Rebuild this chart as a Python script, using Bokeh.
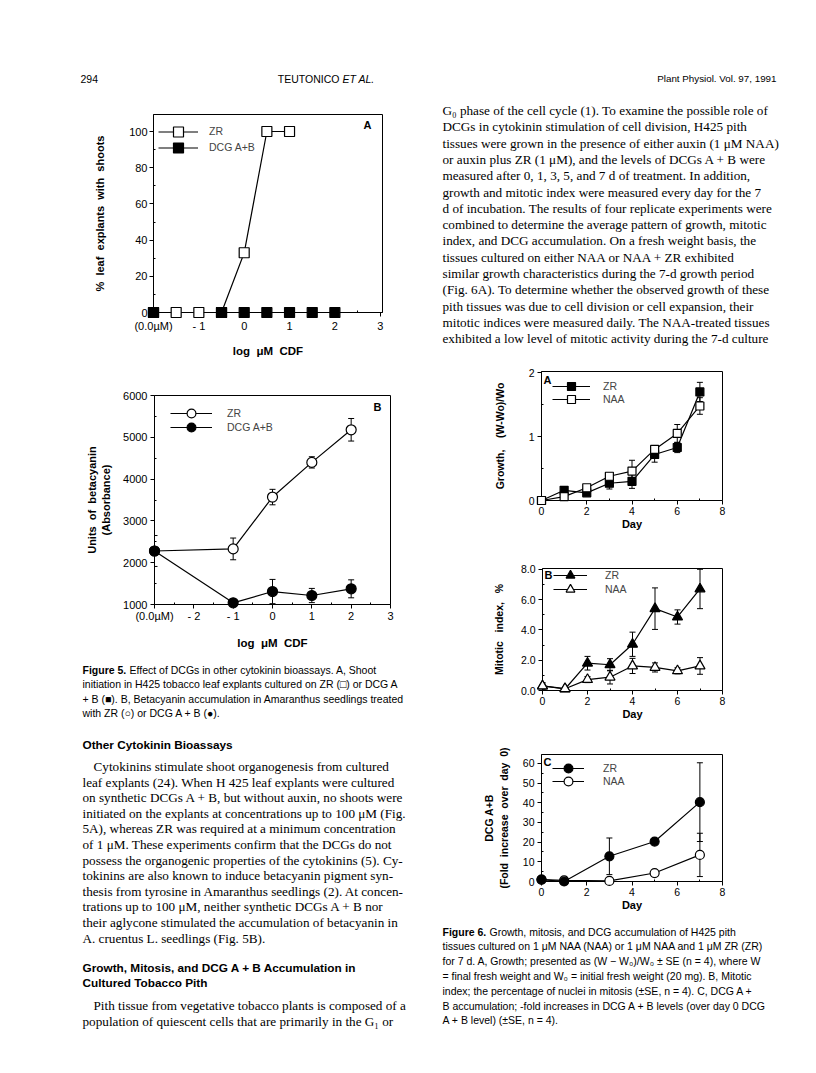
from bokeh.plotting import figure
from bokeh.models import (Range1d, ColumnDataSource, Whisker, TeeHead, Legend,
                          LegendItem, FixedTicker, Label)
from bokeh.layouts import row, column
from bokeh.embed import file_html
from bokeh.resources import INLINE
from bokeh.core.properties import value

SANS = "Liberation Sans"
SERIF = "Liberation Serif"
NB = "\u00a0"

# ---------------- data ----------------
# Figure 5A  (% leaf explants with shoots)
f5a_zr_x = [-2, -1.5, -1, -0.5, 0, 0.5, 1]
f5a_zr_y = [0, 0, 0, 0, 33, 100, 100]
f5a_dcg_x = [-2, -0.5, 0, 0.5, 1, 1.5, 2]
f5a_dcg_y = [0, 0, 0, 0, 0, 0, 0]
f5a_xticks = [-2, -1, 0, 1, 2, 3]
f5a_xlabels = ["(0.0µM)", "- 1", "0", "1", "2", "3"]
f5a_yticks = [0, 20, 40, 60, 80, 100]

# Figure 5B  (units of betacyanin)
f5b_x = [-3, -1, 0, 1, 2]
f5b_zr_y = [2280, 2330, 3570, 4400, 5180]
f5b_zr_err = [0, 260, 185, 135, 270]
f5b_dcg_y = [2280, 1040, 1310, 1215, 1375]
f5b_dcg_err = [370, 0, 290, 170, 215]
f5b_xticks = [-3, -2, -1, 0, 1, 2, 3]
f5b_xlabels = ["(0.0µM)", "- 2", "- 1", "0", "1", "2", "3"]
f5b_yticks = [1000, 2000, 3000, 4000, 5000, 6000]

# Figure 6
days = [0, 1, 2, 3, 4, 5, 6, 7]
day_ticks = [0, 2, 4, 6, 8]
f6a_zr = [0.0, 0.16, 0.12, 0.27, 0.30, 0.72, 0.83, 1.70]
f6a_zr_err = [0, 0.03, 0.03, 0.09, 0.11, 0.12, 0.08, 0.15]
f6a_naa = [0.0, 0.06, 0.20, 0.38, 0.46, 0.80, 1.05, 1.48]
f6a_naa_err = [0, 0.02, 0.03, 0.05, 0.17, 0.06, 0.14, 0.13]
f6a_yticks = [0, 1, 2]

f6b_zr = [0.30, 0.10, 1.80, 1.70, 3.05, 5.40, 4.85, 6.70]
f6b_zr_err = [0.20, 0.08, 0.45, 0.40, 0.80, 1.37, 0.47, 1.30]
f6b_naa = [0.30, 0.12, 0.72, 0.88, 1.62, 1.52, 1.30, 1.62]
f6b_naa_err = [0.20, 0.05, 0.20, 0.45, 0.50, 0.30, 0.20, 0.55]
f6b_yticks = [0, 2, 4, 6, 8]
f6b_ylabels = ["0.0", "2.0", "4.0", "6.0", "8.0"]

f6c_days = [0, 1, 3, 5, 7]
f6c_zr = [1.0, 0.0, 12.8, 20.3, 40.3]
f6c_zr_err = [0, 0, 9.3, 1.5, 20.0]
f6c_naa = [1.0, 0.6, 0.3, 4.3, 13.5]
f6c_naa_err = [0, 0, 0, 0.8, 11.0]
f6c_yticks = [0, 10, 20, 30, 40, 50, 60]

# ---------------- page text ----------------
header_left = "294"
header_mid_a = "TEUTONICO"
header_mid_b = "ET AL."
header_right = "Plant Physiol. Vol. 97, 1991"

cap5_bold = "Figure 5."
cap5_lines = [
    "Effect of DCGs in other cytokinin bioassays. A, Shoot",
    "initiation in H425 tobacco leaf explants cultured on ZR (\u25a1) or DCG A",
    "+ B (\u25a0). B, Betacyanin accumulation in Amaranthus seedlings treated",
    "with ZR (\u25cb) or DCG A + B (\u25cf).",
]
head1 = "Other Cytokinin Bioassays"
body1 = [
    "Cytokinins stimulate shoot organogenesis from cultured",
    "leaf explants (24). When H 425 leaf explants were cultured",
    "on synthetic DCGs A + B, but without auxin, no shoots were",
    "initiated on the explants at concentrations up to 100 \u03bcM (Fig.",
    "5A), whereas ZR was required at a minimum concentration",
    "of 1 \u03bcM. These experiments confirm that the DCGs do not",
    "possess the organogenic properties of the cytokinins (5). Cy-",
    "tokinins are also known to induce betacyanin pigment syn-",
    "thesis from tyrosine in Amaranthus seedlings (2). At concen-",
    "trations up to 100 \u03bcM, neither synthetic DCGs A + B nor",
    "their aglycone stimulated the accumulation of betacyanin in",
    "A. cruentus L. seedlings (Fig. 5B).",
]
head2 = ["Growth, Mitosis, and DCG A + B Accumulation in", "Cultured Tobacco Pith"]
body2 = [
    "Pith tissue from vegetative tobacco plants is composed of a",
    "population of quiescent cells that are primarily in the G\u2081 or",
]
right_body = [
    "G\u2080 phase of the cell cycle (1). To examine the possible role of",
    "DCGs in cytokinin stimulation of cell division, H425 pith",
    "tissues were grown in the presence of either auxin (1 \u03bcM NAA)",
    "or auxin plus ZR (1 \u03bcM), and the levels of DCGs A + B were",
    "measured after 0, 1, 3, 5, and 7 d of treatment. In addition,",
    "growth and mitotic index were measured every day for the 7",
    "d of incubation. The results of four replicate experiments were",
    "combined to determine the average pattern of growth, mitotic",
    "index, and DCG accumulation. On a fresh weight basis, the",
    "tissues cultured on either NAA or NAA + ZR exhibited",
    "similar growth characteristics during the 7-d growth period",
    "(Fig. 6A). To determine whether the observed growth of these",
    "pith tissues was due to cell division or cell expansion, their",
    "mitotic indices were measured daily. The NAA-treated tissues",
    "exhibited a low level of mitotic activity during the 7-d culture",
]
cap6_bold = "Figure 6."
cap6_lines = [
    "Growth, mitosis, and DCG accumulation of H425 pith",
    "tissues cultured on 1 \u03bcM NAA (NAA) or 1 \u03bcM NAA and 1 \u03bcM ZR (ZR)",
    "for 7 d. A, Growth; presented as (W \u2212 W\u2080)/W\u2080 \u00b1 SE (n = 4), where W",
    "= final fresh weight and W\u2080 = initial fresh weight (20 mg). B, Mitotic",
    "index; the percentage of nuclei in mitosis (\u00b1SE, n = 4). C, DCG A +",
    "B accumulation; -fold increases in DCG A + B levels (over day 0 DCG",
    "A + B level) (\u00b1SE, n = 4).",
]

FRAME_H = {}
BODY = "13.2px"
CAP = "10.5px"
HEAD = "11.8px"


# ---------------- helpers ----------------
def canvas(w, h):
    p = figure(width=w, height=h, x_range=Range1d(0, w), y_range=Range1d(h, 0),
               output_backend="svg", toolbar_location=None,
               x_axis_type=None, y_axis_type=None, frame_align=False,
               min_border_left=0, min_border_right=0,
               min_border_top=0, min_border_bottom=0)
    p.outline_line_color = None
    return p


def put(p, xs, ys, texts, font, size, style="normal", align="left"):
    p.text(x=xs, y=ys, text=texts, text_font=value(font), text_font_size=value(size),
           text_font_style=style, text_align=align, text_baseline="middle",
           text_color="black")


def chart(ox, oy, w, h, frame, xr, yr, tick_size):
    fl, ft, fr, fb = frame
    p = figure(width=w, height=h, x_range=Range1d(*xr), y_range=Range1d(*yr),
               output_backend="svg", toolbar_location=None, frame_align=False,
               min_border_left=fl - ox, min_border_right=ox + w - fr,
               min_border_top=ft - oy, min_border_bottom=oy + h - fb)
    p.grid.visible = False
    p.outline_line_color = "black"
    p.outline_line_width = 1
    for ax in (p.xaxis[0], p.yaxis[0]):
        ax.axis_line_color = "black"
        ax.major_tick_line_color = "black"
        ax.minor_tick_line_color = "black"
        ax.major_tick_in = 0
        ax.major_tick_out = 4
        ax.minor_tick_in = 2
        ax.minor_tick_out = 0
        ax.major_label_text_font = SANS
        ax.major_label_text_font_size = tick_size
        ax.major_label_text_color = "black"
        ax.axis_label_text_font = SANS
        ax.axis_label_text_font_style = "bold"
        ax.axis_label_text_color = "black"
    FRAME_H[p.id] = fb - ft
    return p


def set_ticks(ax, ticks, minor, labels=None):
    ax.ticker = FixedTicker(ticks=ticks, minor_ticks=minor)
    if labels is not None:
        ax.major_label_overrides = {t: l for t, l in zip(ticks, labels)}


def draw_series(p, specs):
    """specs: list of (x, y, err, marker, fill, size)"""
    srcs = []
    for x, y, err, marker, fill, size in specs:
        srcs.append(ColumnDataSource(dict(x=x, y=y)))
        if err is not None:
            bx = [xi for xi, e in zip(x, err) if e > 0]
            up = [yi + e for yi, e in zip(y, err) if e > 0]
            lo = [yi - e for yi, e in zip(y, err) if e > 0]
            wsrc = ColumnDataSource(dict(base=bx, upper=up, lower=lo))
            p.add_layout(Whisker(source=wsrc, base="base", upper="upper", lower="lower",
                                 line_color="black", line_width=1,
                                 upper_head=TeeHead(size=6, line_color="black", line_width=1),
                                 lower_head=TeeHead(size=6, line_color="black", line_width=1)))
    lines = []
    for src in srcs:
        lines.append(p.line("x", "y", source=src, line_color="black", line_width=1.2,
                            level="overlay"))
    out = []
    for src, (x, y, err, marker, fill, size), ln in zip(srcs, specs, lines):
        sc = p.scatter("x", "y", source=src, marker=marker, size=size, fill_color=fill,
                       line_color="black", line_width=1.2, level="overlay")
        out.append([ln, sc])
    return out


def add_legend(p, labels, rends, x_off, row1, row_gap, gh, gw, standoff, fsize):
    # one single-item legend per row, so that rows can sit closer than the glyph box
    fh = FRAME_H[p.id]
    for i, (lab, r) in enumerate(zip(labels, rends)):
        top = row1 + i * row_gap - gh / 2
        leg = Legend(items=[LegendItem(label=lab, renderers=r)],
                     glyph_width=gw, glyph_height=gh, label_standoff=standoff,
                     padding=0, margin=0, spacing=0,
                     border_line_color=None, background_fill_alpha=0,
                     label_text_font=SANS, label_text_font_size=fsize,
                     label_height=8, label_width=10,
                     location=(x_off, fh - top - gh))
        p.add_layout(leg)


def letter(p, txt, x, y, align, xoff, yoff):
    p.add_layout(Label(x=x, y=y, text=txt, text_align=align, text_baseline="top",
                       x_offset=xoff, y_offset=yoff, text_font=SANS,
                       text_font_style="bold", text_font_size="11px",
                       text_color="black"))


# ---------------- header (page y 0..95) ----------------
header = canvas(816, 95)
put(header, [80], [78], [header_left], SANS, "10.5px")
put(header, [339], [78], [header_mid_a], SANS, "10.5px", align="right")
put(header, [342], [78], [header_mid_b], SANS, "10.5px", style="italic")
put(header, [776], [78], [header_right], SANS, "9.8px", align="right")

# ---------------- Figure 5A ----------------
xr5a, yr5a = (-2, 3.05), (0, 109.4)
f5a = chart(0, 95, 408, 270, (153, 114, 382, 312), xr5a, yr5a, "11px")
set_ticks(f5a.xaxis[0], f5a_xticks, [-1.5, -0.5, 0.5, 1.5, 2.5], f5a_xlabels)
set_ticks(f5a.yaxis[0], f5a_yticks, [10, 30, 50, 70, 90])
f5a.xaxis.axis_label = "log" + NB + " \u03bcM" + NB + " CDF"
f5a.yaxis.axis_label = ("%" + NB + " leaf" + NB + " explants" + NB + " with" + NB + " shoots")
f5a.xaxis.axis_label_text_font_size = "11.5px"
f5a.yaxis.axis_label_text_font_size = "11px"
f5a.xaxis.major_label_standoff = 3
f5a.xaxis.axis_label_standoff = 10
f5a.yaxis.major_label_standoff = 2
f5a.yaxis.axis_label_standoff = 20
r5a = draw_series(f5a, [(f5a_zr_x, f5a_zr_y, None, "square", "white", 10),
                        (f5a_dcg_x, f5a_dcg_y, None, "square", "black", 10)])
add_legend(f5a, ["ZR", "DCG A+B"], r5a, 5, 17, 16, 25, 40, 11, "10.5px")
letter(f5a, "A", xr5a[1], yr5a[1], "right", -11, -4)

# ---------------- Figure 5B ----------------
xr5b, yr5b = (-3, 3), (1000, 6000)
f5b = chart(0, 365, 408, 295, (154, 395, 390, 604), xr5b, yr5b, "11px")
set_ticks(f5b.xaxis[0], f5b_xticks, [-2.5, -1.5, -0.5, 0.5, 1.5, 2.5], f5b_xlabels)
set_ticks(f5b.yaxis[0], f5b_yticks, [1500, 2500, 3500, 4500, 5500])
f5b.xaxis.axis_label = "log" + NB + " \u03bcM" + NB + " CDF"
f5b.yaxis.axis_label = ("Units" + NB + " of" + NB + " betacyanin\n(Absorbance)")
f5b.xaxis.axis_label_text_font_size = "11.5px"
f5b.yaxis.axis_label_text_font_size = "11px"
f5b.xaxis.major_label_standoff = 1
f5b.xaxis.axis_label_standoff = 12
f5b.yaxis.major_label_standoff = 3
f5b.yaxis.axis_label_standoff = 8
r5b = draw_series(f5b, [(f5b_x, f5b_zr_y, f5b_zr_err, "circle", "white", 10),
                        (f5b_x, f5b_dcg_y, f5b_dcg_err, "circle", "black", 10)])
add_legend(f5b, ["ZR", "DCG A+B"], r5b, 16, 18, 14, 22, 42, 15, "10.5px")
letter(f5b, "B", xr5b[1], yr5b[1], "right", -9, -5)

# ---------------- left text block (page y 660..1073) ----------------
left_txt = canvas(408, 413)
cx, oy = 82, 660
put(left_txt, [cx], [669 - oy], [cap5_bold], SANS, CAP, style="bold")
put(left_txt, [cx + 47] + [cx] * 3, [669 + 14.6 * i - oy for i in range(4)],
    cap5_lines, SANS, CAP)
put(left_txt, [cx], [744 - oy], [head1], SANS, HEAD, style="bold")
put(left_txt, [cx + 11] + [cx] * (len(body1) - 1),
    [766 + 15.6 * i - oy for i in range(len(body1))], body1, SERIF, BODY)
put(left_txt, [cx, cx], [967 - oy, 982 - oy], head2, SANS, HEAD, style="bold")
put(left_txt, [cx + 11, cx], [1005 - oy, 1021 - oy], body2, SERIF, BODY)

# ---------------- right text block (page y 95..365) ----------------
right_txt = canvas(408, 270)
put(right_txt, [442 - 408] * len(right_body),
    [110 + 16.3 * i - 95 for i in range(len(right_body))], right_body, SERIF, BODY)

# ---------------- Figure 6A ----------------
xr6, yr6a = (0, 8), (0, 2.02)
f6a = chart(408, 365, 408, 170, (541, 371, 722, 500), xr6, yr6a, "10.5px")
set_ticks(f6a.xaxis[0], day_ticks, [1, 3, 5, 7])
set_ticks(f6a.yaxis[0], f6a_yticks, [0.5, 1.5])
f6a.xaxis.axis_label = "Day"
f6a.yaxis.axis_label = "Growth," + NB + NB + NB + " (W-Wo)/Wo"
f6a.xaxis.axis_label_text_font_size = "11px"
f6a.yaxis.axis_label_text_font_size = "10.5px"
f6a.xaxis.major_label_standoff = 2
f6a.xaxis.axis_label_standoff = 0
f6a.yaxis.major_label_standoff = 3
f6a.yaxis.axis_label_standoff = 20
r6a = draw_series(f6a, [(days, f6a_zr, f6a_zr_err, "square", "black", 8),
                        (days, f6a_naa, f6a_naa_err, "square", "white", 8)])
add_legend(f6a, ["ZR", "NAA"], r6a, 11, 15, 13, 20, 38, 13, "10.5px")
letter(f6a, "A", xr6[0], yr6a[1], "left", 2, -2)

# ---------------- Figure 6B ----------------
yr6b = (0, 8.05)
f6b = chart(408, 535, 408, 210, (542, 568, 722, 690), xr6, yr6b, "10.5px")
set_ticks(f6b.xaxis[0], day_ticks, [1, 3, 5, 7])
set_ticks(f6b.yaxis[0], f6b_yticks, [1, 3, 5, 7], f6b_ylabels)
f6b.xaxis.axis_label = "Day"
f6b.yaxis.axis_label = "Mitotic" + NB + NB + " index," + NB + NB + " %"
f6b.xaxis.axis_label_text_font_size = "11px"
f6b.yaxis.axis_label_text_font_size = "10.5px"
f6b.xaxis.major_label_standoff = 2
f6b.xaxis.axis_label_standoff = 0
f6b.yaxis.major_label_standoff = 3
f6b.yaxis.axis_label_standoff = 13
r6b = draw_series(f6b, [(days, f6b_zr, f6b_zr_err, "triangle", "black", 10),
                        (days, f6b_naa, f6b_naa_err, "triangle", "white", 10)])
add_legend(f6b, ["ZR", "NAA"], r6b, 11, 7, 14, 22, 34, 18, "10.5px")
letter(f6b, "B", xr6[0], yr6b[1], "left", 2, 0)

# ---------------- Figure 6C ----------------
yr6c = (0, 64.5)
f6c = chart(408, 745, 408, 175, (541, 754, 722, 881), xr6, yr6c, "10.5px")
set_ticks(f6c.xaxis[0], day_ticks, [1, 3, 5, 7])
set_ticks(f6c.yaxis[0], f6c_yticks, [5, 15, 25, 35, 45, 55])
f6c.xaxis.axis_label = "Day"
f6c.yaxis.axis_label = ("DCG A+B\n(Fold" + NB + " increase" + NB + " over" + NB + " day" + NB + " 0)")
f6c.xaxis.axis_label_text_font_size = "11px"
f6c.yaxis.axis_label_text_font_size = "10.5px"
f6c.xaxis.major_label_standoff = 2
f6c.xaxis.axis_label_standoff = 0
f6c.yaxis.major_label_standoff = 3
f6c.yaxis.axis_label_standoff = 10
r6c = draw_series(f6c, [(f6c_days, f6c_naa, f6c_naa_err, "circle", "white", 9),
                        (f6c_days, f6c_zr, f6c_zr_err, "circle", "black", 9)])
add_legend(f6c, ["ZR", "NAA"], [r6c[1], r6c[0]], 11, 14, 13, 22, 32, 19, "10.5px")
letter(f6c, "C", xr6[0], yr6c[1], "left", 2, -1)

# ---------------- right caption (page y 920..1073) ----------------
right_cap = canvas(408, 153)
rx, roy = 442 - 408, 920
put(right_cap, [rx], [931 - roy], [cap6_bold], SANS, CAP, style="bold")
put(right_cap, [rx + 47] + [rx] * (len(cap6_lines) - 1),
    [931 + 14.8 * i - roy for i in range(len(cap6_lines))], cap6_lines, SANS, CAP)

layout = column(
    header,
    row(column(f5a, f5b, left_txt),
        column(right_txt, f6a, f6b, f6c, right_cap)),
)

open("out.html", "w").write(file_html(layout, INLINE))
